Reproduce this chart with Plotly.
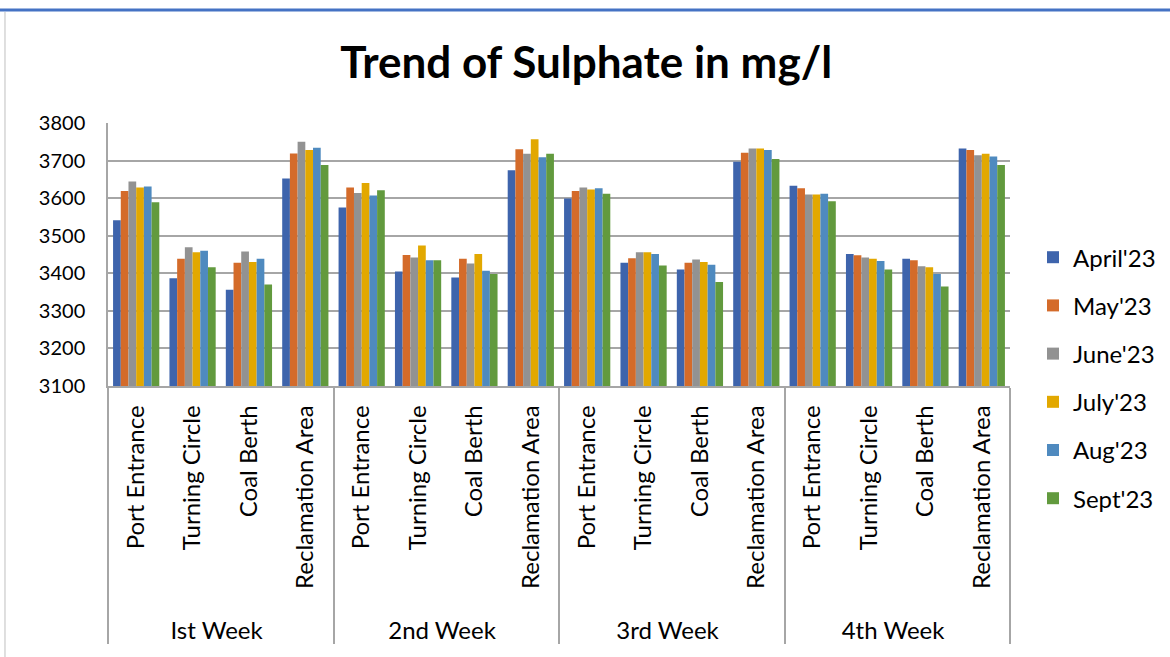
import plotly.graph_objects as go

weeks = ["Ist Week", "2nd Week", "3rd Week", "4th Week"]
sites = ["Port Entrance", "Turning Circle", "Coal Berth", "Reclamation Area"]
months = ["April'23", "May'23", "June'23", "July'23", "Aug'23", "Sept'23"]
colors = ["#3E64AC", "#D46B2A", "#929292", "#E2A800", "#4F8ABF", "#629A3E"]

# values per month, ordered week1(PE,TC,CB,RA), week2(...), week3(...), week4(...)
april = [3541, 3387, 3356, 3652, 3575, 3405, 3389, 3674, 3599, 3428, 3410, 3697, 3633, 3451, 3439, 3732]
may   = [3619, 3439, 3428, 3719, 3628, 3449, 3439, 3730, 3619, 3440, 3428, 3721, 3626, 3448, 3435, 3728]
june  = [3644, 3469, 3458, 3750, 3614, 3442, 3426, 3718, 3628, 3456, 3437, 3732, 3610, 3442, 3419, 3714]
july  = [3628, 3456, 3430, 3728, 3640, 3474, 3451, 3757, 3623, 3456, 3430, 3732, 3610, 3439, 3416, 3718]
aug   = [3631, 3460, 3439, 3734, 3607, 3435, 3407, 3709, 3626, 3451, 3423, 3728, 3612, 3433, 3398, 3711]
sept  = [3589, 3416, 3370, 3688, 3621, 3435, 3398, 3718, 3612, 3421, 3377, 3704, 3592, 3410, 3365, 3688]
series = [april, may, june, july, aug, sept]

PAD = "\u00a0\u00a0"  # extends label box downward so the week row sits lower
x_outer = [w for w in weeks for _ in sites]
x_inner = [PAD + s for _ in weeks for s in sites]

fig = go.Figure()
for name, vals, col in zip(months, series, colors):
    fig.add_trace(go.Bar(
        x=[x_outer, x_inner], y=vals, name=name, legendgroup=name,
        marker=dict(color=col, line=dict(width=0)),
    ))

fig.update_layout(
    width=1170, height=657,
    barmode="group", bargap=0.18, bargroupgap=0.0,
    plot_bgcolor="white", paper_bgcolor="white",
    font=dict(family="Lato, Open Sans, sans-serif", color="black"),
    title=dict(text="<b>Trend of Sulphate in mg/l</b>", x=0.501, xanchor="center",
               y=0.905, yanchor="middle", font=dict(size=44, family="Lato, Open Sans, sans-serif")),
    margin=dict(l=108, r=160, t=123, b=271, autoexpand=False),
    legend=dict(x=1.0255, xanchor="left", y=0.03, yanchor="middle",
                font=dict(size=24), tracegroupgap=14, itemwidth=30,
                traceorder="grouped", maxheight=500),
    yaxis=dict(range=[3100, 3800], dtick=100, showgrid=True, gridcolor="#A6A6A6", gridwidth=1.5,
               showline=True, linecolor="#A6A6A6", linewidth=1.5, ticks="",
               tickfont=dict(size=20), zeroline=False, automargin=False,
               ticklabelstandoff=17),
    xaxis=dict(showline=True, linecolor="#A6A6A6", linewidth=1.5, tickangle=-90,
               tickfont=dict(size=24), showdividers=True, dividercolor="#A6A6A6",
               dividerwidth=1.5, ticks="", automargin=False, ticklabelstandoff=8),
    shapes=[
        dict(type="line", xref="paper", yref="paper", x0=-0.125, x1=1.2, y0=1.4297, y1=1.4297,
             line=dict(color="#4472C4", width=3)),
        dict(type="line", xref="paper", yref="paper", x0=-0.1142, x1=-0.1142, y0=1.422, y1=-1.1,
             line=dict(color="#BFBFBF", width=1)),
    ],
)
fig.write_html("out.html", config={"displayModeBar": False},
               post_script="document.body.style.margin='0';")
